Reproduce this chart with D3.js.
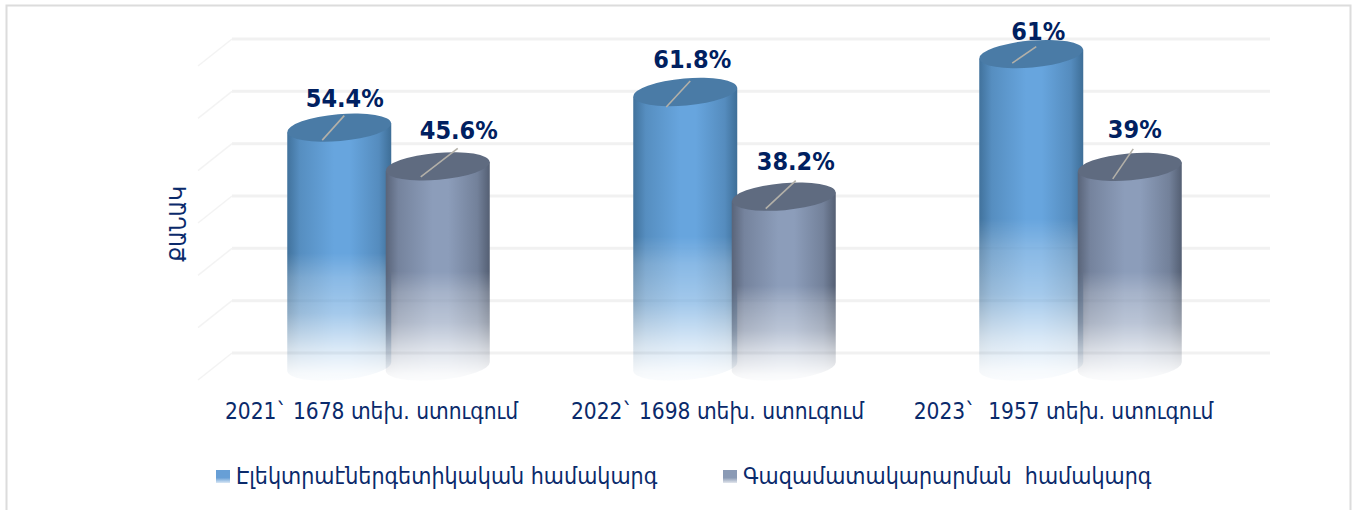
<!DOCTYPE html>
<html><head><meta charset="utf-8">
<script src="https://cdn.jsdelivr.net/npm/d3@7/dist/d3.min.js"></script>
<style>html,body{margin:0;padding:0;background:#fff}svg{display:block}text{font-family:"DejaVu Sans Condensed","DejaVu Sans",sans-serif;font-stretch:condensed}</style>
</head><body><div id="c"></div>
<script>
const categories = ["2021` 1678 տեխ. ստուգում","2022` 1698 տեխ. ստուգում","2023`  1957 տեխ. ստուգում"];
const seriesNames = ["Էլեկտրաէներգետիկական համակարգ","Գազամատակարարման  համակարգ"];
const electricValues = [913,1049,1194];
const gasValues = [765,649,763];
const electricLabels = ["54.4%","61.8%","61%"];
const gasLabels = ["45.6%","38.2%","39%"];
const yTicks = [0,200,400,600,800,1000,1200];
const yTitle = "ՔԱՆԱԿ";

// styling / annotation layout (separate from data)
const W=1357,H=510,depthX=34,depthY=27,rx=52,ry=13.5,tilt=-5,ink="#0a2a6b",labelInk="#002060";
const leaders=[[[-17,12.5,5,-12],[-17,10.5,20,-18]],[[-19,15,5,-11],[-18,12,12,-16]],[[-19,9,5,-7.5],[-17,12,3.5,-18]]];
const labelPos=[[[5.5,-21],[21,-27]],[[7,-24],[12,-27]],[[7,-14],[5,-29]]];

const svg=d3.select("#c").append("svg").attr("width",W).attr("height",H);
const defs=svg.append("defs");
function hGrad(id,edgeL,mid,edgeR){
  const g=defs.append("linearGradient").attr("id",id);
  [[0,edgeL],[.12,d3.interpolateRgb(edgeL,mid)(.55)],[.45,mid],[.6,mid],[.88,d3.interpolateRgb(edgeR,mid)(.55)],[1,edgeR]]
    .forEach(s=>g.append("stop").attr("offset",s[0]).attr("stop-color",s[1]));
}
hGrad("g0","#41729c","#67a5de","#3e6e97");
hGrad("g1","#596479","#8c9dba","#545f73");
const fade=defs.append("linearGradient").attr("id","fade").attr("x2",0).attr("y2",1);
[[0,1],[.53,1],[.62,.78],[.75,.6],[.88,.25],[.97,.06],[1,.03]].forEach(s=>fade.append("stop").attr("offset",s[0]).attr("stop-color","#fff").attr("stop-opacity",s[1]));
const mask=defs.append("mask").attr("id","m").attr("maskContentUnits","objectBoundingBox").attr("maskUnits","objectBoundingBox").attr("x",-.05).attr("y",-.05).attr("width",1.1).attr("height",1.1);
mask.append("rect").attr("x",-.1).attr("y",-.1).attr("width",1.2).attr("height",1.2).attr("fill","#000");
mask.append("rect").attr("height",1).attr("x",-.1).attr("width",1.2).attr("fill","url(#fade)");

// frame
svg.append("path").attr("d",`M6.5 ${H}V5.5H1350.5V${H}`).attr("fill","none").attr("stroke","#dcdcdc").attr("stroke-width",2);

const x=d3.scaleBand().domain(categories).range([198.5,1236.5]);
const x1=d3.scaleBand().domain(seriesNames).range([-98.5,98.5]);
const y=d3.scaleLinear().domain([0,1200]).range([353,39]);

// grid
const grid=svg.append("g");
yTicks.forEach(t=>{
  const yy=y(t);
  grid.append("line").attr("x1",198+depthX).attr("x2",1236+depthX).attr("y1",yy).attr("y2",yy).attr("stroke","#f1f1f1").attr("stroke-width",3);
  grid.append("line").attr("x1",198).attr("x2",198+depthX).attr("y1",yy+depthY).attr("y2",yy).attr("stroke","#f3f3f3").attr("stroke-width",1.4);
});

// cylinders
const series=[{v:electricValues,l:electricLabels,s:seriesNames[0],g:"g0",top:"#4a7ba6"},{v:gasValues,l:gasLabels,s:seriesNames[1],g:"g1",top:"#5f6b80"}];
const sin=Math.sin(tilt*Math.PI/180)*rx;
series.forEach((S,si)=>{
  categories.forEach((c,ci)=>{
    const cx=x(c)+x.bandwidth()/2+depthX/2+x1(S.s)+x1.bandwidth()/2;
    const base=y(0)+depthY/2, top=y(S.v[ci])+depthY/2;
    const g=svg.append("g");
    const inner=g.append("g").attr("mask","url(#m)");
    inner.append("path")
      .attr("d",`M${cx-rx} ${top-sin}L${cx-rx} ${base-sin}A${rx} ${ry} ${tilt} 0 0 ${cx+rx} ${base+sin}L${cx+rx} ${top+sin}Z`)
      .attr("fill",`url(#${S.g})`);
    inner.append("ellipse").attr("cx",cx).attr("cy",top).attr("rx",rx).attr("ry",ry)
      .attr("transform",`rotate(${tilt} ${cx} ${top})`).attr("fill",S.top);
    const L=leaders[ci][si];
    g.append("line").attr("x1",cx+L[0]).attr("y1",top+L[1]).attr("x2",cx+L[2]).attr("y2",top+L[3])
      .attr("stroke","#b3b0a8").attr("stroke-width",1.6);
    const P=labelPos[ci][si];
    g.append("text").attr("x",cx+P[0]).attr("y",top+P[1]).attr("text-anchor","middle")
      .attr("font-size",25).attr("font-weight","bold").attr("fill",labelInk).text(S.l[ci]);
  });
});

// category axis
const ax=svg.append("g").attr("transform","translate(0,419)").call(d3.axisBottom(x).tickSize(0).tickPadding(0));
ax.select(".domain").remove();
ax.selectAll("text").attr("font-size",22.5).attr("fill",ink).attr("dy",0).style("font-family",'"DejaVu Sans Condensed","DejaVu Sans",sans-serif').style("font-stretch","condensed").style("white-space","pre");

// y title
svg.append("text").attr("transform","translate(186,224) rotate(-90)").attr("text-anchor","middle").attr("font-size",22.5).attr("fill",ink).text(yTitle);

// legend
const lx=[216,723];
seriesNames.forEach((n,i)=>{
  const g=svg.append("g").attr("transform",`translate(${lx[i]},0)`);
  g.append("rect").attr("y",470).attr("width",14).attr("height",13).attr("fill",`url(#lg${i})`);
  g.append("text").attr("x",20).attr("y",484).attr("font-size",23).attr("fill",ink).style("white-space","pre").text(n);
  const lg=defs.append("linearGradient").attr("id","lg"+i).attr("x2",0).attr("y2",1);
  const col=["#679fd6","#8a9ab5"][i];
  [[0,col,1],[.6,col,1],[1,col,.25]].forEach(s=>lg.append("stop").attr("offset",s[0]).attr("stop-color",s[1]).attr("stop-opacity",s[2]));
});
</script></body></html>
